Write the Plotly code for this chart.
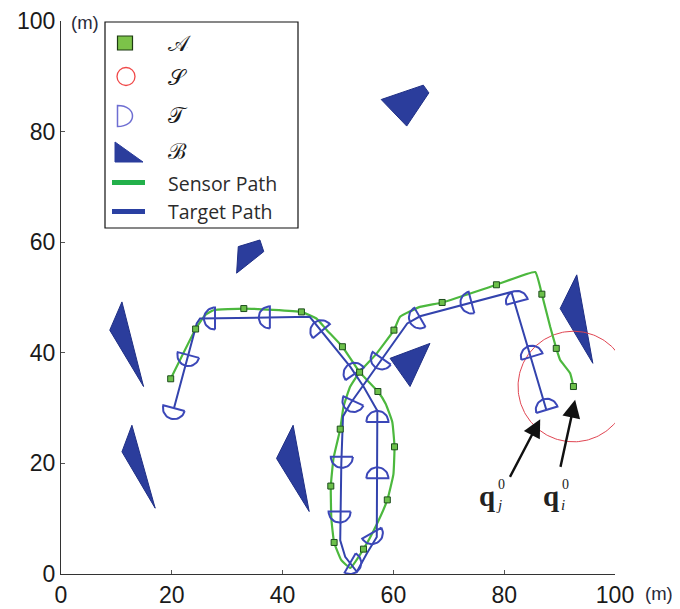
import numpy as np
import plotly.graph_objects as go

# ---------------- data ----------------
# Sensor path (from initial sensor position q_i^0)
sensor_x = [92.5, 91.9, 90.1, 89.4, 88.3, 86.8, 85.6, 78.6, 68.8, 64.8, 61.2, 60.1, 57.0, 53.9, 52.2,
            51.0, 50.4, 49.2, 48.7, 48.8, 49.3, 50.6, 52.2, 54.6, 57.0, 58.9, 60.0, 60.2, 59.8, 58.6,
            57.2, 53.9, 50.8, 48.0, 46.1, 43.4, 33.0, 27.5, 26.0, 24.3, 19.8]
sensor_y = [33.9, 36.3, 38.7, 40.8, 44.7, 50.6, 54.6, 52.3, 49.1, 48.3, 46.5, 44.1, 39.9, 36.5, 33.9,
            30.3, 26.2, 21.0, 15.9, 10.0, 5.7, 2.5, 1.1, 4.5, 9.0, 13.4, 18.0, 23.0, 27.5, 30.8,
            33.0, 36.5, 41.1, 44.1, 46.2, 47.4, 48.0, 47.7, 46.8, 44.3, 35.3]

# Sensor poses (set A)
agent_x = [92.5, 89.4, 86.8, 78.6, 68.8, 60.1, 53.9, 50.4, 48.7, 49.3, 54.6, 58.9, 60.2, 57.2, 50.8, 43.4, 33.0, 24.3, 19.8]
agent_y = [33.9, 40.8, 50.6, 52.3, 49.1, 44.1, 36.5, 26.2, 15.9, 5.7, 4.5, 13.4, 23.0, 33.0, 41.1, 47.4, 48.0, 44.3, 35.3]

# Target path (from initial target position q_j^0)
target_x = [87.6, 81.3, 64.8, 62.5, 52.2, 50.9, 50.6, 50.4, 51.3, 53.4, 55.2, 57.0, 57.1, 54.6, 52.2,
            46.8, 44.9, 25.1, 24.5, 20.4]
target_y = [29.7, 51.0, 46.6, 45.3, 30.8, 28.5, 20.0, 6.1, 3.1, 0.4, 3.7, 6.7, 29.5, 33.9, 37.5,
            44.1, 46.5, 46.2, 45.3, 30.0]

# Target poses (set T): position and heading (deg)
tpose_x = [87.7, 85.0, 82.3, 74.1, 64.8, 57.9, 52.8, 50.7, 50.3, 52.2, 56.1, 57.1, 57.1, 53.0, 47.0, 37.7, 27.8, 23.0, 20.4]
tpose_y = [29.7, 39.3, 49.2, 49.1, 46.4, 39.0, 31.3, 21.2, 11.3, 2.0, 7.4, 17.3, 27.5, 36.2, 43.9, 46.4, 46.2, 39.6, 30.0]
tpose_heading = [107, 107, 105, 195, 210, 235, 245, 270, 270, 330, 300, 90, 90, 125, 130, 180, 180, 255, 255]
tpose_radius = 2.0

# Sensing region (set S)
sensing_radius = 10.0

# Obstacles (set B)
obstacle_x = [[57.8, 65.4, 66.4, 62.4],
              [32.0, 35.9, 36.6, 31.7],
              [11.0, 8.8, 14.9],
              [12.8, 11.0, 17.0],
              [41.9, 38.9, 44.8],
              [59.4, 66.6, 63.0],
              [93.1, 90.1, 96.0]]
obstacle_y = [[85.8, 88.4, 87.0, 81.0],
              [59.2, 60.4, 58.3, 54.4],
              [49.2, 44.1, 33.9],
              [26.9, 22.1, 11.9],
              [26.9, 20.9, 11.3],
              [39.0, 41.7, 33.9],
              [54.1, 48.0, 38.1]]

tick_vals = [0, 20, 40, 60, 80, 100]
tick_text = ["0", "20", "40", "60", "80", "100"]

# ---------------- styles ----------------
GREEN = "#4cb83e"
BLUE = "#3343ad"
OBST = "#2b3d9c"
RED = "#e04552"

OFF = 8  # page body margin offset
W, H = 680, 609
# target plot area in screenshot pixels: x 61..615, y 21..574
ML, MT = 61 - OFF, 21 - OFF
MR = W - (615 - OFF)
MB = H - (574 - OFF)
PW, PH = 615 - 61, 574 - 21


def pp(px, py):
    return (px - 61) / PW, (574 - py) / PH


fig = go.Figure()

# obstacles
for ox, oy in zip(obstacle_x, obstacle_y):
    fig.add_trace(go.Scatter(x=ox + [ox[0]], y=oy + [oy[0]], mode="lines", fill="toself",
                             fillcolor=OBST, line=dict(color="#1f2f85", width=1),
                             hoverinfo="skip", showlegend=False))

# sensing circle around initial sensor position
th = np.linspace(0, 2 * np.pi, 200)
fig.add_trace(go.Scatter(x=sensor_x[0] + sensing_radius * np.cos(th),
                         y=sensor_y[0] + sensing_radius * np.sin(th),
                         mode="lines", line=dict(color=RED, width=1), hoverinfo="skip", showlegend=False))

# sensor path
fig.add_trace(go.Scatter(x=sensor_x, y=sensor_y, mode="lines",
                         line=dict(color=GREEN, width=2.2, shape="spline", smoothing=0.35),
                         hoverinfo="skip", showlegend=False))

# target path
fig.add_trace(go.Scatter(x=target_x, y=target_y, mode="lines",
                         line=dict(color=BLUE, width=2),
                         hoverinfo="skip", showlegend=False))

# target poses as half-disc glyphs
gx, gy = [], []
for cx, cy, hd in zip(tpose_x, tpose_y, tpose_heading):
    angs = np.radians(np.linspace(hd + 90, hd - 90, 25))
    xs = list(cx + tpose_radius * np.cos(angs))
    ys = list(cy + tpose_radius * np.sin(angs))
    xs.append(xs[0]); ys.append(ys[0])
    gx += xs + [None]; gy += ys + [None]
fig.add_trace(go.Scatter(x=gx, y=gy, mode="lines", line=dict(color="#3b47b8", width=2),
                         hoverinfo="skip", showlegend=False))

# sensor poses
fig.add_trace(go.Scatter(x=agent_x, y=agent_y, mode="markers",
                         marker=dict(symbol="square", size=6, color="#6cc04a",
                                     line=dict(color="#1d4d1d", width=1)),
                         hoverinfo="skip", showlegend=False))

# arrows pointing to q_j^0 and q_i^0
fig.add_annotation(x=tpose_x[0] - 1.2, y=tpose_y[0] - 1.7, ax=80.9, ay=17.3,
                   xref="x", yref="y", axref="x", ayref="y", text="", showarrow=True,
                   arrowhead=2, arrowsize=1.5, arrowwidth=2.4, arrowcolor="#111", standoff=0)
fig.add_annotation(x=sensor_x[0] + 0.3, y=sensor_y[0] - 2.4, ax=90.1, ay=19.1,
                   xref="x", yref="y", axref="x", ayref="y", text="", showarrow=True,
                   arrowhead=2, arrowsize=1.5, arrowwidth=2.4, arrowcolor="#111", standoff=0)

SERIF = "Liberation Serif, DejaVu Serif, serif"
for qx, supx, supy, sub in [(76.9, 79.5, 16.2, "j"), (88.4, 91.1, 16.1, "i")]:
    fig.add_annotation(x=qx, y=14.1, xref="x", yref="y", text="<b>q</b>", showarrow=False,
                       xanchor="center", yanchor="middle",
                       font=dict(family=SERIF, size=29, color="#222"))
    fig.add_annotation(x=supx, y=supy, xref="x", yref="y", text="0", showarrow=False,
                       xanchor="center", yanchor="middle",
                       font=dict(family=SERIF, size=14, color="#222"))
    fig.add_annotation(x=supx - 0.4, y=12.4, xref="x", yref="y", text="<i>" + sub + "</i>",
                       xanchor="center", yanchor="middle",
                       showarrow=False, font=dict(family=SERIF, size=15, color="#222"))

# axis unit labels
for (ux, uy) in [(85, 23), (659, 593)]:
    fx, fy = pp(ux, uy)
    fig.add_annotation(x=fx, y=fy, xref="paper", yref="paper", text="(m)", showarrow=False,
                       xanchor="center", yanchor="middle",
                       font=dict(family="Liberation Sans, Arial", size=18.5, color="#2a2a3a"))

# ---------------- custom legend ----------------
shapes = []
x0, y1 = pp(105, 22)
x1, y0 = pp(298, 228)
shapes.append(dict(type="rect", xref="paper", yref="paper", x0=x0, y0=y0, x1=x1, y1=y1,
                   line=dict(color="#111", width=1.2), fillcolor="white", layer="above"))
# square
a, b = pp(117.5, 36); c, d = pp(132.5, 50)
shapes.append(dict(type="rect", xref="paper", yref="paper", x0=a, y0=d, x1=c, y1=b,
                   line=dict(color="#1d3a12", width=1.2), fillcolor="#7cc349", layer="above"))
# circle
a, b = pp(117, 67.5); c, d = pp(135, 85.5)
shapes.append(dict(type="circle", xref="paper", yref="paper", x0=a, y0=d, x1=c, y1=b,
                   line=dict(color="#f04848", width=1.3), layer="above"))
# D glyph
a, b = pp(117.5, 105.5); _, d = pp(117.5, 126.5); e, _ = pp(117.5 + 15 * 4 / 3, 0)
shapes.append(dict(type="path", xref="paper", yref="paper",
                   path=f"M {a},{b} C {e},{b} {e},{d} {a},{d} Z",
                   line=dict(color="#6e6ed2", width=1.5), layer="above"))
# triangle glyph
a, b = pp(115, 142); c, d = pp(143, 162)
shapes.append(dict(type="path", xref="paper", yref="paper",
                   path=f"M {a},{b} L {a},{d} L {c},{d} Z",
                   line=dict(color=OBST, width=1), fillcolor=OBST, layer="above"))
# lines
a, b = pp(112, 182.5); c, _ = pp(145, 182.5)
shapes.append(dict(type="line", xref="paper", yref="paper", x0=a, y0=b, x1=c, y1=b,
                   line=dict(color="#22b04a", width=5), layer="above"))
a, b = pp(112, 211.5); c, _ = pp(145, 211.5)
shapes.append(dict(type="line", xref="paper", yref="paper", x0=a, y0=b, x1=c, y1=b,
                   line=dict(color="#2a40a2", width=5), layer="above"))

legend_labels = ["𝒜", "𝒮", "𝒯", "ℬ", "Sensor Path", "Target Path"]
legend_rows = [43, 77, 115, 151, 183, 211.5]
for lab, row in zip(legend_labels, legend_rows):
    lx, ly = pp(166, row)
    if len(lab) == 1:
        f = dict(family="DejaVu Serif, Noto Sans, serif", size=22, color="#1a1a1a")
    else:
        f = dict(family="Open Sans, Lato, sans-serif", size=19.5, color="#2b2b2b")
    fig.add_annotation(x=lx, y=ly, xref="paper", yref="paper", text=lab, showarrow=False,
                       xanchor="left", yanchor="middle", font=f)

axis_common = dict(range=[0, 100], showline=True, linecolor="#333", linewidth=1.3,
                   ticks="inside", ticklen=4, tickcolor="#555", tickvals=tick_vals,
                   ticktext=tick_text, showgrid=False, zeroline=False, fixedrange=True,
                   automargin=False,
                   tickfont=dict(family="Liberation Sans, Arial", size=23, color="#1a1a1a"))

fig.update_layout(width=W, height=H, margin=dict(l=ML, r=MR, t=MT, b=MB, autoexpand=False),
                  paper_bgcolor="white", plot_bgcolor="white", showlegend=False,
                  xaxis=dict(**axis_common), yaxis=dict(**axis_common), shapes=shapes)

fig.write_html("out.html")
